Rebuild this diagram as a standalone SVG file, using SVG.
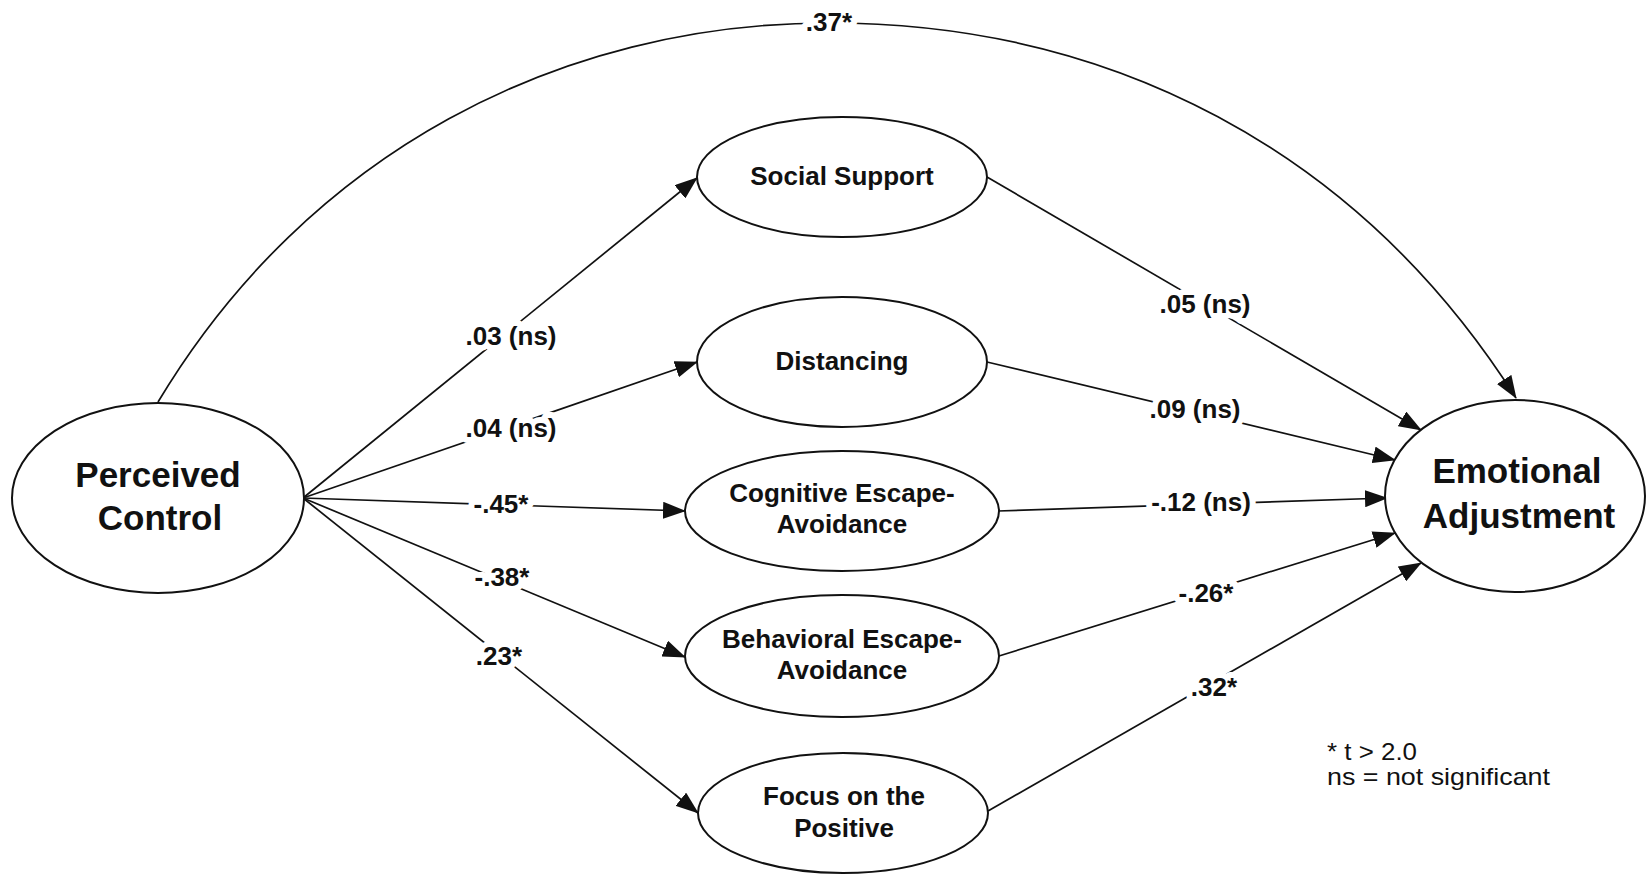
<svg xmlns="http://www.w3.org/2000/svg" width="1646" height="874" viewBox="0 0 1646 874">
  <style>
    .node ellipse { fill: #fff; stroke: #111; stroke-width: 2; }
    .big { font-family: "Liberation Sans", Arial, sans-serif; font-weight: bold; font-size: 35px; fill: #111; text-anchor: middle; }
    .mid { font-family: "Liberation Sans", Arial, sans-serif; font-weight: bold; font-size: 26px; fill: #111; text-anchor: middle; }
    .edge { fill: none; stroke: #111; stroke-width: 1.7; marker-end: url(#arrow); }
    .plain { fill: none; stroke: #111; stroke-width: 1.7; }
    .coef { font-family: "Liberation Sans", Arial, sans-serif; font-weight: bold; font-size: 26px; fill: #111; text-anchor: middle;
            stroke: #fff; stroke-width: 12px; stroke-linejoin: round; paint-order: stroke; }
    .legend { font-family: "Liberation Sans", Arial, sans-serif; font-size: 24px; fill: #111; }
  </style>
  <defs>
    <marker id="arrow" markerUnits="userSpaceOnUse" viewBox="0 0 23 17" markerWidth="23" markerHeight="17" refX="22" refY="8.5" orient="auto">
      <path d="M0,0 L23,8.5 L0,17 z" fill="#111"/>
    </marker>
  </defs>
  <rect width="1646" height="874" fill="#fff"/>

  <!-- path lines -->
  <g id="connectors">
    <!-- direct path, drawn as two halves meeting at the crest -->
    <path class="plain" d="M158,402 C308,152 560,23 829,23"/>
    <path class="edge" d="M829,23 C1109,23 1357,148 1516,398"/>
    <!-- predictor to coping strategies -->
    <line class="edge" x1="303" y1="498" x2="697" y2="178"/>
    <line class="edge" x1="303" y1="498" x2="697" y2="362"/>
    <line class="edge" x1="303" y1="498" x2="685" y2="511"/>
    <line class="edge" x1="303" y1="498" x2="685" y2="657"/>
    <line class="edge" x1="303" y1="498" x2="698" y2="813"/>
    <!-- coping strategies to outcome -->
    <line class="edge" x1="987" y1="177" x2="1421" y2="430"/>
    <line class="edge" x1="987" y1="362" x2="1395" y2="460"/>
    <line class="edge" x1="998" y1="511" x2="1387" y2="498"/>
    <line class="edge" x1="999" y1="656" x2="1395" y2="533"/>
    <line class="edge" x1="988" y1="811" x2="1421" y2="563"/>
    <!-- path coefficients -->
    <text class="coef" x="829" y="31">.37*</text>
    <text class="coef" x="511" y="345">.03 (ns)</text>
    <text class="coef" x="511" y="437">.04 (ns)</text>
    <text class="coef" x="501" y="513">-.45*</text>
    <text class="coef" x="502" y="586">-.38*</text>
    <text class="coef" x="499" y="665">.23*</text>
    <text class="coef" x="1205" y="313">.05 (ns)</text>
    <text class="coef" x="1195" y="418">.09 (ns)</text>
    <text class="coef" x="1201" y="511">-.12 (ns)</text>
    <text class="coef" x="1206" y="602">-.26*</text>
    <text class="coef" x="1214" y="696">.32*</text>
  </g>

  <g id="perceived-control" class="node">
    <ellipse cx="158" cy="498" rx="146" ry="95"/>
    <text class="big" x="158" y="487">Perceived</text>
    <text class="big" x="160" y="530">Control</text>
  </g>

  <g id="social-support" class="node">
    <ellipse cx="842" cy="177" rx="145" ry="60"/>
    <text class="mid" x="842" y="185">Social Support</text>
  </g>

  <g id="distancing" class="node">
    <ellipse cx="842" cy="362" rx="145" ry="65"/>
    <text class="mid" x="842" y="370">Distancing</text>
  </g>

  <g id="cognitive-escape-avoidance" class="node">
    <ellipse cx="842" cy="511" rx="157" ry="60"/>
    <text class="mid" x="842" y="502">Cognitive Escape-</text>
    <text class="mid" x="842" y="533">Avoidance</text>
  </g>

  <g id="behavioral-escape-avoidance" class="node">
    <ellipse cx="842" cy="656" rx="157" ry="61"/>
    <text class="mid" x="842" y="648">Behavioral Escape-</text>
    <text class="mid" x="842" y="679">Avoidance</text>
  </g>

  <g id="focus-on-the-positive" class="node">
    <ellipse cx="843" cy="813" rx="145" ry="60"/>
    <text class="mid" x="844" y="805">Focus on the</text>
    <text class="mid" x="844" y="837">Positive</text>
  </g>

  <g id="emotional-adjustment" class="node">
    <ellipse cx="1515" cy="496" rx="130" ry="96"/>
    <text class="big" x="1517" y="483">Emotional</text>
    <text class="big" x="1519" y="528">Adjustment</text>
  </g>

  <g id="legend">
    <text class="legend" x="1327" y="760" textLength="90" lengthAdjust="spacingAndGlyphs">* t &gt; 2.0</text>
    <text class="legend" x="1327" y="785" textLength="223" lengthAdjust="spacingAndGlyphs">ns = not significant</text>
  </g>
</svg>
